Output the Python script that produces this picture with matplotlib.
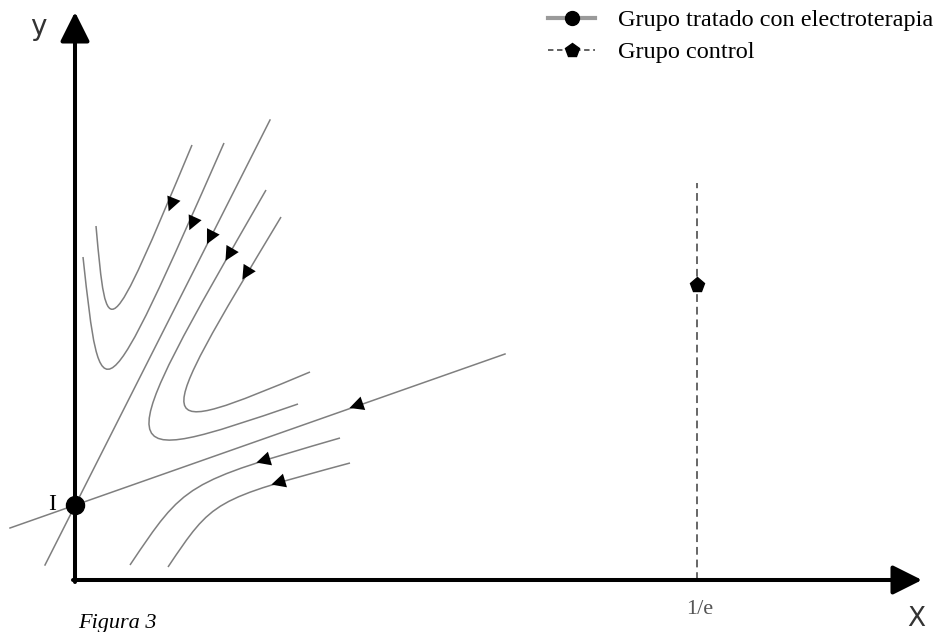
import matplotlib
matplotlib.use('Agg')
import matplotlib.pyplot as plt
from matplotlib.path import Path
from matplotlib.patches import PathPatch
from matplotlib.lines import Line2D
import numpy as np

# Diagram units: origin at the corner of the axes, 1 unit ~ 1 pixel
# Trajectories as cubic Bezier control points (start, ctrl, ctrl, end)
curve_A = [(21, 354), (32, 232), (32, 232), (117, 435)]
curve_B = [(8, 323), (26, 158), (26, 158), (149, 437)]
curve_C = [(191, 390), (30, 110), (30, 110), (223, 176)]
curve_D = [(206, 363), (72, 140), (72, 140), (235, 208)]
curve_E = [(55, 15), (110, 97), (110, 97), (265, 142)]
curve_F = [(93, 13), (138, 80), (138, 80), (275, 117)]
curves = [curve_A, curve_B, curve_C, curve_D, curve_E, curve_F]

# Separatrices through the saddle point I
sep_steep_x = [-30, 195]
sep_steep_y = [15, 460]
sep_flat_x = [-65, 430]
sep_flat_y = [52, 226]

# Arrow heads: centre and direction of travel
arrow_x = [97, 118, 136, 155, 172, 283, 190, 205]
arrow_y = [377, 358, 344, 327, 308, 175, 120, 98]
arrow_dx = [-0.4, -0.45, -0.506, -0.58, -0.61, -1, -1, -1]
arrow_dy = [-1, -1, -1, -1, -1, -0.35, -0.3, -0.3]

saddle_x, saddle_y = 0, 75
control_x = 622
control_top = 397
control_y = 295

labels = ['Grupo tratado con electroterapia', 'Grupo control']

fig = plt.figure(figsize=(9.41, 6.32), dpi=100)
ax = fig.add_axes([0, 0, 1, 1])
ax.set_xlim(-75, 866)
ax.set_ylim(-52, 580)
ax.axis('off')

gray = '#7f7f7f'

# trajectories
for pts in curves:
    path = Path(pts, [Path.MOVETO, Path.CURVE4, Path.CURVE4, Path.CURVE4])
    ax.add_patch(PathPatch(path, fc='none', ec=gray, lw=1.1))

ax.plot(sep_steep_x, sep_steep_y, color=gray, lw=1.1)
ax.plot(sep_flat_x, sep_flat_y, color=gray, lw=1.1)

# direction arrows
for cx, cy, dx, dy in zip(arrow_x, arrow_y, arrow_dx, arrow_dy):
    u = np.array([dx, dy]) / np.hypot(dx, dy)
    tail = np.array([cx, cy]) - u * 9
    tip = np.array([cx, cy]) + u * 9
    ax.annotate('', xy=tip, xytext=tail,
                arrowprops=dict(arrowstyle='-|>,head_length=0.6,head_width=0.3',
                                mutation_scale=17, color='black', lw=0,
                                shrinkA=0, shrinkB=0))

# axes with arrow heads
ax.annotate('', xy=(0, 568), xytext=(0, -2),
            arrowprops=dict(arrowstyle='-|>,head_length=0.9,head_width=0.45',
                            mutation_scale=20, color='black', lw=2.9,
                            shrinkA=0, shrinkB=0))
ax.annotate('', xy=(847, 0), xytext=(-2, 0),
            arrowprops=dict(arrowstyle='-|>,head_length=0.9,head_width=0.45',
                            mutation_scale=20, color='black', lw=2.9,
                            shrinkA=0, shrinkB=0))

# control group
ax.plot([control_x, control_x], [0, control_top], color='#666666', lw=1.4,
        ls=(0, (4, 2.5)))
ax.plot([control_x], [control_y], marker='p', ms=11, color='black')

# saddle I
ax.plot([saddle_x], [saddle_y], marker='o', ms=13, color='black', zorder=5)
ax.text(-23, 75, 'I', fontfamily='Liberation Serif', fontsize=17,
        ha='center', va='center')

ax.text(-37, 553, 'y', fontfamily='DejaVu Sans', fontsize=20, color='#333333',
        ha='center', va='center')
ax.text(841, -39, 'X', fontfamily='DejaVu Sans', fontsize=19, color='#333333',
        ha='center', va='center')
ax.text(625, -29, '1/e', fontfamily='Liberation Serif', fontsize=16,
        color='#555555', ha='center', va='center')
ax.text(3, -34, 'Figura 3', fontfamily='Liberation Serif', style='italic',
        fontsize=16, ha='left', va='top')

h1 = Line2D([], [], color='#9a9a9a', lw=3, marker='o', ms=10,
            mfc='black', mec='black')
h2 = Line2D([], [], color='#555555', lw=1.3, ls=(0, (3, 2)), marker='p', ms=10,
            mfc='black', mec='black')
fig.legend([h1, h2], labels, loc='upper left',
           bbox_to_anchor=(548 / 941, 1 - 9 / 632), frameon=False,
           prop={'family': 'Liberation Serif', 'size': 17.5},
           handlelength=1.95, handletextpad=0.95, borderpad=0,
           borderaxespad=0, labelspacing=0.42)

fig.savefig('out.png', dpi=100)
